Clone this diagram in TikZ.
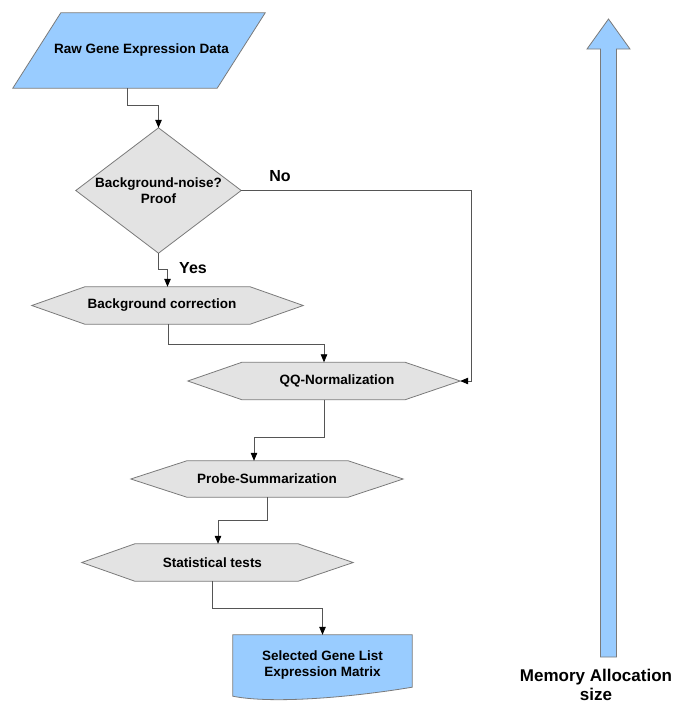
\documentclass[tikz,border=0pt]{standalone}
\usepackage{fontspec}
\setmainfont{Liberation Sans}
\usetikzlibrary{arrows.meta,backgrounds}
\definecolor{blu}{HTML}{99CCFF}
\definecolor{gry}{HTML}{E3E3E3}
\definecolor{edge}{HTML}{7A7A7A}
\definecolor{wire}{HTML}{555555}
\tikzset{
  box/.style={rectangle, inner sep=0pt, align=center, font=\bfseries\fontsize{13.5}{16}\selectfont},
  shapeline/.style={draw=edge, line width=0.8pt},
  bluefill/.style={shapeline, fill=blu},
  grayfill/.style={shapeline, fill=gry},
  conn/.style={draw=wire, line width=0.8pt, -{Stealth[length=8pt,width=6.5pt,inset=0pt,color=black,fill=black]}},
  lbl/.style={inner sep=0pt, font=\bfseries\fontsize{16}{19}\selectfont},
}
\begin{document}
\begin{tikzpicture}[x=1pt,y=-1pt]
\useasboundingbox (0,0) rectangle (676,705);

% nodes
\node[box, minimum width=252pt, minimum height=75pt] (raw) at (139,50.5) {\kern5pt Raw Gene Expression Data};
\node[box, minimum width=165pt, minimum height=125pt] (dia) at (158.5,190.5) {Background-noise?\\Proof};
\node[box, minimum width=271pt, minimum height=37pt] (bgc) at (167.5,305.5) {Background correction\kern11pt};
\node[box, minimum width=272pt, minimum height=37pt] (qq) at (324,381) {\kern26pt QQ-Normalization};
\node[box, minimum width=272pt, minimum height=36pt] (probe) at (267,479) {Probe-Summarization};
\node[box, minimum width=271pt, minimum height=37pt] (stat) at (217.5,562.5) {Statistical tests\kern10pt};
\node[box, minimum width=179pt, minimum height=61pt] (doc) at (322.5,665.5) {\raisebox{9pt}{\begin{tabular}{@{}c@{}}Selected Gene List\\Expression Matrix\end{tabular}}};

% shapes
\begin{scope}[on background layer]
\draw[bluefill] ([xshift=48pt]raw.north west) -- (raw.north east) -- ([xshift=-48pt]raw.south east) -- (raw.south west) -- cycle;
\draw[grayfill] (dia.north) -- (dia.east) -- (dia.south) -- (dia.west) -- cycle;
\draw[grayfill] (bgc.west) -- ([xshift=53pt]bgc.north west) -- ([xshift=-53pt]bgc.north east) -- (bgc.east) -- ([xshift=-53pt]bgc.south east) -- ([xshift=53pt]bgc.south west) -- cycle;
\draw[grayfill] (qq.west) -- ([xshift=54pt]qq.north west) -- ([xshift=-55pt]qq.north east) -- (qq.east) -- ([xshift=-55pt]qq.south east) -- ([xshift=54pt]qq.south west) -- cycle;
\draw[grayfill] (probe.west) -- ([xshift=56pt]probe.north west) -- ([xshift=-55pt]probe.north east) -- (probe.east) -- ([xshift=-55pt]probe.south east) -- ([xshift=56pt]probe.south west) -- cycle;
\draw[grayfill] (stat.west) -- ([xshift=53pt]stat.north west) -- ([xshift=-55pt]stat.north east) -- (stat.east) -- ([xshift=-55pt]stat.south east) -- ([xshift=53pt]stat.south west) -- cycle;
\draw[bluefill] (doc.south west) -- (doc.north west) -- (doc.north east) -- ([yshift=9pt]doc.south east)
  .. controls ([xshift=-60pt,yshift=-1pt]doc.south east) and ([xshift=40pt,yshift=-8pt]doc.south west) .. (doc.south west) -- cycle;
\end{scope}

% big arrow
\draw[bluefill] (600.5,657) -- (600.5,49) -- (587,49) -- (608.5,19) -- (630,49) -- (616.5,49) -- (616.5,657) -- cycle;
\node[align=center, inner sep=0pt, font=\bfseries\fontsize{17}{19}\selectfont] (mem) at (596,685) {Memory Allocation\\size};

% connectors
\coordinate (c1) at (127,105);
\draw[conn] (c1 |- raw.south) -- (c1) -| (dia.north);
\coordinate (c2) at (158.5,269);
\draw[conn] (dia.south) -- (c2) -| (bgc.north);
\coordinate (c3) at (471,190.5);
\draw[conn] (dia.east) -- (c3) |- (qq.east);
\coordinate (c4) at (168,344);
\draw[conn] (c4 |- bgc.south) -- (c4) -| (qq.north);
\coordinate (c5) at (254,437);
\draw[conn] (qq.south) |- (c5) -- (c5 |- probe.north);
\coordinate (c6) at (218,520);
\draw[conn] (probe.south) |- (c6) -- (c6 |- stat.north);
\coordinate (c7) at (212,608);
\draw[conn] (c7 |- stat.south) -- (c7) -| (doc.north);

% labels
\node[lbl] (no) at (280,176) {No};
\node[lbl] (yes) at (193,268) {Yes};
\end{tikzpicture}
\end{document}
